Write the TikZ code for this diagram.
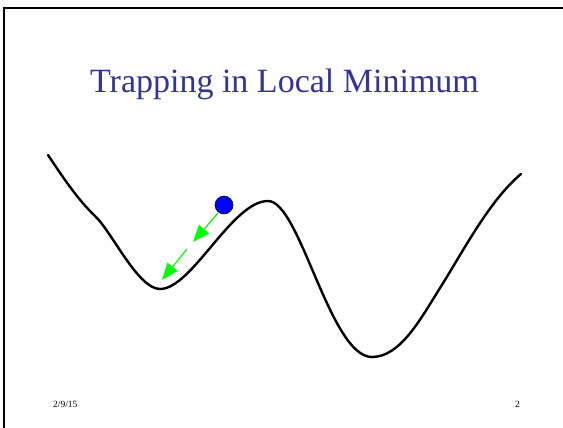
\documentclass[tikz,border=0pt]{standalone}
\usepackage{fontspec}
\setmainfont{Liberation Serif}
\usetikzlibrary{arrows.meta}
\definecolor{titleblue}{RGB}{51,51,153}
\definecolor{ballblue}{RGB}{0,0,255}
\definecolor{arrowgreen}{RGB}{0,255,0}
\tikzset{
  frameline/.style={line width=2.8pt, black},
  landscape/.style={line width=2.4pt, black, line join=round, line cap=round},
  ballstyle/.style={circle, fill=ballblue, draw=black, line width=0.5pt, minimum size=18pt, inner sep=0pt},
  movearrow/.style={arrowgreen, line width=1.2pt, -{Triangle[length=17pt,width=13pt]}},
  titletext/.style={text=titleblue, font=\fontsize{34}{40}\selectfont, inner sep=0pt, anchor=base},
  foottext/.style={font=\fontsize{9.5}{11}\selectfont, inner sep=0pt, anchor=base}
}
\begin{document}
\begin{tikzpicture}[x=1pt,y=-1pt]
\useasboundingbox (0,0) rectangle (563,428);
\fill[white] (0,0) rectangle (563,428);
\draw[frameline] (4,428) -- (4,8) -- (563,8);
\node[titletext] (title) at (284.5,93) {Trapping in Local Minimum};
\draw[landscape] (48,155)
  .. controls (62,176) and (78,200) .. (95,216)
  .. controls (112,232) and (138,289) .. (160,289)
  .. controls (192,289) and (232,201) .. (268,201)
  .. controls (300,201) and (330,357) .. (372,357)
  .. controls (400,357) and (420,320) .. (440,288)
  .. controls (465,248) and (490,200) .. (521,174);
\node[ballstyle] (ball) at (224,205) {};
\coordinate (a1s) at (218,213);
\coordinate (a1e) at (193,242);
\coordinate (a2s) at (187,249);
\coordinate (a2e) at (162,280);
\draw[movearrow] (a1s) -- (a1e);
\draw[movearrow] (a2s) -- (a2e);
\node[foottext, anchor=base west] (date) at (53,407) {2/9/15};
\node[foottext, anchor=base east] (page) at (520,407) {2};
\end{tikzpicture}
\end{document}
